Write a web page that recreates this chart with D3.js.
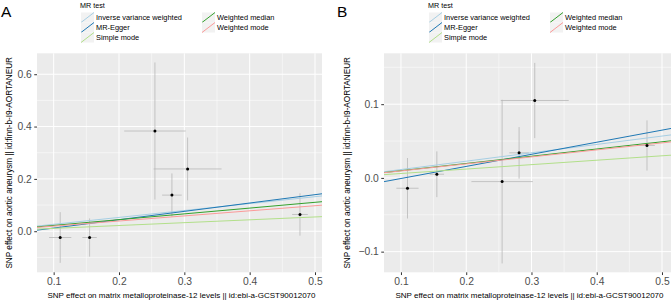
<!DOCTYPE html>
<html>
<head>
<meta charset="utf-8">
<script src="https://cdn.jsdelivr.net/npm/d3@7"></script>
<style>
  body { margin: 0; background: #fff; }
  svg { display: block; font-family: "Liberation Sans", Arial, Helvetica, sans-serif; }
</style>
</head>
<body>
<div class="div_d3"></div>
<script>
// SNP effects on exposure (shared by both panels)
const exposureBeta = [0.110, 0.155, 0.255, 0.281, 0.305, 0.477];
const exposureSe   = [0.017, 0.011, 0.047, 0.015, 0.052, 0.012];

// panel A outcome
const outcomeBetaA = [-0.024, -0.024, 0.383, 0.138, 0.238, 0.064];
const outcomeSeA   = [0.097, 0.073, 0.262, 0.083, 0.120, 0.081];

// panel B outcome
const outcomeBetaB = [-0.014, 0.005, -0.005, 0.034, 0.105, 0.044];
const outcomeSeB   = [0.041, 0.031, 0.111, 0.035, 0.051, 0.034];

// MR methods, in legend order
const methods = ["Inverse variance weighted", "MR-Egger", "Simple mode", "Weighted median", "Weighted mode"];
const methodColors = ["#A6CEE3", "#1F78B4", "#B2DF8A", "#33A02C", "#FB9A99"];
const slopeA = [0.264, 0.319, 0.109, 0.221, 0.195];
const interceptA = [0, -0.0198, 0, 0, 0];
const slopeB = [0.1135, 0.164, 0.060, 0.098, 0.095];
const interceptB = [0, -0.0172, 0, 0, 0];

const xTicks = [0.1, 0.2, 0.3, 0.4, 0.5];
const xMinor = [0.15, 0.25, 0.35, 0.45];
const yTicksA = [0.0, 0.2, 0.4, 0.6];
const yMinorA = [-0.1, 0.1, 0.3, 0.5];
const yTicksB = [-0.1, 0.0, 0.1];
const yMinorB = [-0.05, 0.05, 0.15];

const xLabel = "SNP effect on matrix metalloproteinase-12 levels || id:ebi-a-GCST90012070";
const yLabel = "SNP effect on aortic aneurysm || id:finn-b-I9-AORTANEUR";

const W = 672, H = 303;
const svg = d3.select(".div_d3").append("svg")
  .attr("width", W).attr("height", H);

const panels = [
  {tag: "A", ox: 0, left: 37, right: 322, xDom: [0.0745, 0.5107], yDom: [-0.157, 0.680],
   yb: outcomeBetaA, yse: outcomeSeA, slope: slopeA, icpt: interceptA,
   yTicks: yTicksA, yMinor: yMinorA, fmt: d3.format(".1f"), titleX: 12},
  {tag: "B", ox: 336, left: 384, right: 671, xDom: [0.074, 0.5138], yDom: [-0.128, 0.169],
   yb: outcomeBetaB, yse: outcomeSeB, slope: slopeB, icpt: interceptB,
   yTicks: yTicksB, yMinor: yMinorB, fmt: d => d3.format(".1f")(d).replace("-", "\u2212"), titleX: 349.5}
];

const plotTop = 53.3, plotBottom = 272.3;

panels.forEach(drawPanel);

function drawPanel(p) {
  const x = d3.scaleLinear().domain(p.xDom).range([p.left, p.right]);
  const y = d3.scaleLinear().domain(p.yDom).range([plotBottom, plotTop]);
  const g = svg.append("g");

  // panel background
  g.append("rect")
    .attr("x", p.left).attr("y", plotTop)
    .attr("width", p.right - p.left).attr("height", plotBottom - plotTop)
    .attr("fill", "#EBEBEB");

  // grid lines
  g.selectAll(".xminor").data(xMinor).join("line")
    .attr("x1", d => x(d)).attr("x2", d => x(d)).attr("y1", plotTop).attr("y2", plotBottom)
    .attr("stroke", "#fff").attr("stroke-width", 0.5);
  g.selectAll(".yminor").data(p.yMinor).join("line")
    .attr("y1", d => y(d)).attr("y2", d => y(d)).attr("x1", p.left).attr("x2", p.right)
    .attr("stroke", "#fff").attr("stroke-width", 0.5);
  g.selectAll(".xmajor").data(xTicks).join("line")
    .attr("x1", d => x(d)).attr("x2", d => x(d)).attr("y1", plotTop).attr("y2", plotBottom)
    .attr("stroke", "#fff").attr("stroke-width", 1);
  g.selectAll(".ymajor").data(p.yTicks).join("line")
    .attr("y1", d => y(d)).attr("y2", d => y(d)).attr("x1", p.left).attr("x2", p.right)
    .attr("stroke", "#fff").attr("stroke-width", 1);

  // axes
  const xAxis = g.append("g")
    .attr("transform", `translate(0,${plotBottom})`)
    .call(d3.axisBottom(x).tickValues(xTicks).tickSize(2.75).tickPadding(3).tickFormat(d3.format(".1f")));
  const yAxis = g.append("g")
    .attr("transform", `translate(${p.left},0)`)
    .call(d3.axisLeft(y).tickValues(p.yTicks).tickSize(2.75).tickPadding(2.5).tickFormat(p.fmt));
  [xAxis, yAxis].forEach(a => {
    a.select(".domain").remove();
    a.selectAll(".tick line").attr("stroke", "#333");
    a.selectAll(".tick text").attr("fill", "#4D4D4D")
      .style("font-size", "10.3px").style("font-family", "Liberation Sans, Arial, sans-serif");
  });

  // clip for the data layer
  const clipId = "clip" + p.tag;
  svg.append("clipPath").attr("id", clipId).append("rect")
    .attr("x", p.left).attr("y", plotTop).attr("width", p.right - p.left).attr("height", plotBottom - plotTop);
  const plot = g.append("g").attr("clip-path", `url(#${clipId})`);

  const pts = exposureBeta.map((b, i) => ({bx: b, sx: exposureSe[i], by: p.yb[i], sy: p.yse[i]}));

  // error bars
  plot.selectAll(".ev").data(pts).join("line")
    .attr("x1", d => x(d.bx)).attr("x2", d => x(d.bx))
    .attr("y1", d => y(d.by - d.sy)).attr("y2", d => y(d.by + d.sy))
    .attr("stroke", "#B8B8B8").attr("stroke-width", 0.8);
  plot.selectAll(".eh").data(pts).join("line")
    .attr("y1", d => y(d.by)).attr("y2", d => y(d.by))
    .attr("x1", d => x(d.bx - d.sx)).attr("x2", d => x(d.bx + d.sx))
    .attr("stroke", "#B8B8B8").attr("stroke-width", 0.8);

  // MR regression lines
  const lines = methods.map((m, i) => ({m, col: methodColors[i], a: p.icpt[i], b: p.slope[i]}));
  plot.selectAll(".mr").data(lines).join("line")
    .attr("x1", x(p.xDom[0])).attr("x2", x(p.xDom[1]))
    .attr("y1", d => y(d.a + d.b * p.xDom[0]))
    .attr("y2", d => y(d.a + d.b * p.xDom[1]))
    .attr("stroke", d => d.col).attr("stroke-width", 1);

  // points
  plot.selectAll(".pt").data(pts).join("circle")
    .attr("cx", d => x(d.bx)).attr("cy", d => y(d.by))
    .attr("r", 1.5).attr("fill", "#000");

  // axis titles
  g.append("text")
    .attr("x", (p.left + p.right) / 2 + 2).attr("y", 298)
    .attr("text-anchor", "middle").attr("font-size", 8).attr("fill", "#000")
    .text(xLabel);
  g.append("text")
    .attr("transform", `translate(${p.titleX},${(plotTop + plotBottom) / 2}) rotate(-90)`)
    .attr("text-anchor", "middle").attr("font-size", 8.2).attr("fill", "#000")
    .text(yLabel);

  // panel tag
  g.append("text")
    .attr("x", p.ox + 1).attr("y", 17)
    .attr("font-size", 15.5).attr("fill", "#000")
    .text(p.tag);

  // legend
  const lx = (p.left + p.right) / 2 - 98.5;
  const leg = g.append("g").attr("transform", `translate(${lx},0)`);
  leg.append("text").attr("x", -1).attr("y", 7.5)
    .attr("font-size", 7.2).attr("fill", "#000").text("MR test");
  const items = leg.selectAll(".li").data(lines).join("g")
    .attr("transform", (d, i) => `translate(${i < 3 ? 0 : 121},${12.5 + (i % 3) * 10})`);
  items.append("rect").attr("width", 13).attr("height", 10).attr("fill", "#F2F2F2");
  items.append("line")
    .attr("x1", 0).attr("y1", 10).attr("x2", 13).attr("y2", 0)
    .attr("stroke", d => d.col).attr("stroke-width", 1);
  items.append("text")
    .attr("x", 15).attr("y", 7.3)
    .attr("font-size", 7.4).attr("fill", "#000")
    .text(d => d.m);
}
</script>
</body>
</html>
